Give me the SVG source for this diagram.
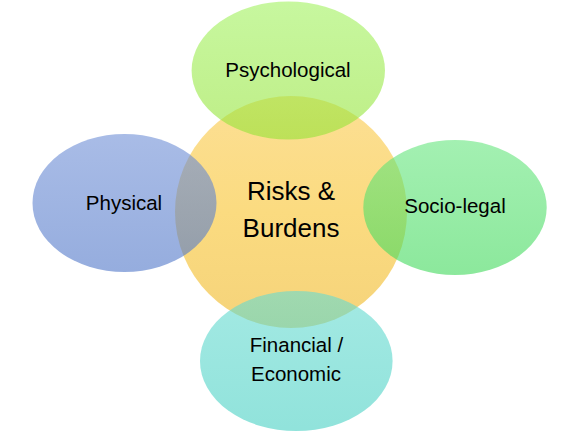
<svg xmlns="http://www.w3.org/2000/svg" width="582" height="431" viewBox="0 0 582 431">
<defs>
<linearGradient id="gC" x1="0" y1="0" x2="0" y2="1"><stop offset="0" stop-color="#fcdf94"/><stop offset="0.5" stop-color="#fbdb80"/><stop offset="1" stop-color="#f5d37a"/></linearGradient>
<linearGradient id="gP" x1="0" y1="0" x2="0" y2="1"><stop offset="0" stop-color="#a2f25f"/><stop offset="1" stop-color="#93e336"/></linearGradient>
<linearGradient id="gB" x1="0" y1="0" x2="0" y2="1"><stop offset="0" stop-color="#6f8fd6"/><stop offset="1" stop-color="#4f76c8"/></linearGradient>
<linearGradient id="gS" x1="0" y1="0" x2="0" y2="1"><stop offset="0" stop-color="#66e67e"/><stop offset="1" stop-color="#3fd95a"/></linearGradient>
<linearGradient id="gF" x1="0" y1="0" x2="0" y2="1"><stop offset="0" stop-color="#66dbd1"/><stop offset="1" stop-color="#47d0c3"/></linearGradient>
</defs>
<style>
.o{fill-opacity:0.6}
text{font-family:"Liberation Sans",Arial,sans-serif;fill:#000;text-anchor:middle}
.s{font-size:20.5px}
.b{font-size:26px}
</style>
<g id="center"><circle cx="291" cy="212" r="116" fill="url(#gC)"/></g>
<g id="psychological"><ellipse class="o" cx="288.3" cy="70.5" rx="96.7" ry="69" fill="url(#gP)"/></g>
<g id="physical"><ellipse class="o" cx="124.5" cy="203" rx="92" ry="69" fill="url(#gB)"/></g>
<g id="socio-legal"><ellipse class="o" cx="455" cy="207.5" rx="91.7" ry="67.5" fill="url(#gS)"/></g>
<g id="financial"><ellipse class="o" cx="296.3" cy="361" rx="96.3" ry="70" fill="url(#gF)"/></g>
<g id="labels">
<text class="b" x="291" y="200">Risks &amp;</text>
<text class="b" x="291" y="237">Burdens</text>
<text class="s" x="288" y="77">Psychological</text>
<text class="s" x="124" y="210">Physical</text>
<text class="s" x="455" y="213">Socio-legal</text>
<text class="s" x="296.5" y="352">Financial /</text>
<text class="s" x="296" y="381">Economic</text>
</g>
<g id="connectors"/>
</svg>
